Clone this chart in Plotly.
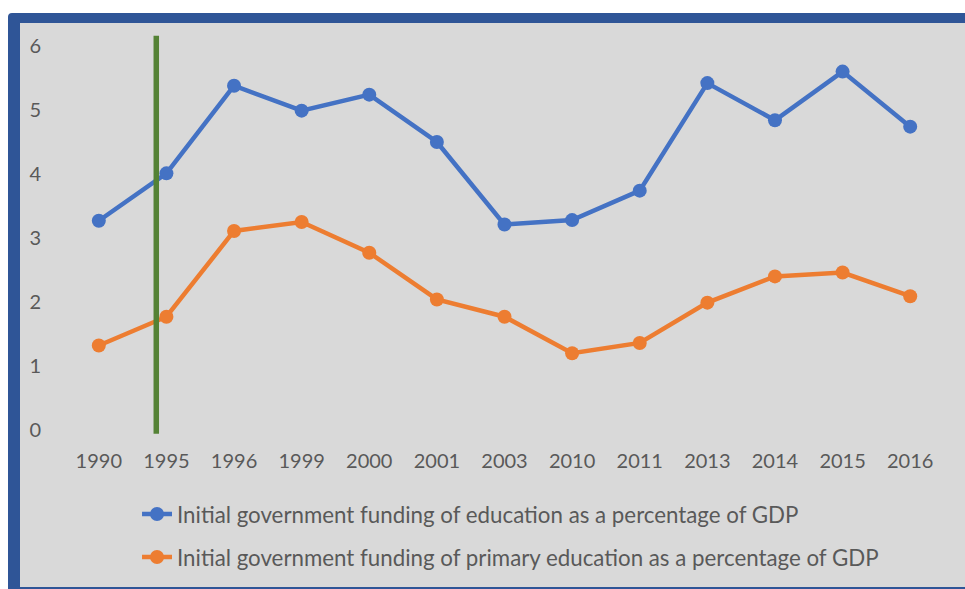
import plotly.graph_objects as go

years = ["1990", "1995", "1996", "1999", "2000", "2001", "2003", "2010", "2011", "2013", "2014", "2015", "2016"]
total_edu = [3.27, 4.01, 5.38, 4.99, 5.24, 4.50, 3.21, 3.28, 3.74, 5.42, 4.84, 5.60, 4.74]
primary_edu = [1.32, 1.77, 3.11, 3.25, 2.77, 2.04, 1.77, 1.20, 1.36, 1.99, 2.40, 2.46, 2.09]
name_total = "Initial government funding of education as a percentage of GDP"
name_primary = "Initial government funding of primary education as a percentage of GDP"
y_ticks = [0, 1, 2, 3, 4, 5, 6]
marker_x = 0.85      # vertical marker position (category index, just before 1995)
marker_y = [-0.06, 6.16]

W, H = 965, 589
TXT = "#595959"
FONT = "Lato, 'Open Sans', sans-serif"

fig = go.Figure()
fig.add_trace(go.Scatter(
    x=years, y=total_edu, name=name_total, mode="lines+markers",
    line=dict(color="#4472C4", width=4.5),
    marker=dict(color="#4472C4", size=14),
    legendgroup="a",
))
fig.add_trace(go.Scatter(
    x=years, y=primary_edu, name=name_primary, mode="lines+markers",
    line=dict(color="#ED7D31", width=4.5),
    marker=dict(color="#ED7D31", size=14),
    legendgroup="b",
))

def px(x):
    return x / W

def py(y):
    return 1 - y / H

shapes = [
    # gray chart area
    dict(type="rect", xref="paper", yref="paper", x0=px(20), x1=px(W), y0=py(587), y1=py(23),
         fillcolor="#D9D9D9", line=dict(width=0), layer="below"),
    # top/left blue border
    dict(type="path", xref="paper", yref="paper",
         path=f"M {px(8)},{py(H)} L {px(8)},{py(17)} Q {px(8)},{py(13)} {px(12)},{py(13)} "
              f"L {px(W)},{py(13)} L {px(W)},{py(23)} L {px(20)},{py(23)} L {px(20)},{py(H)} Z",
         fillcolor="#2F5597", line=dict(width=0), layer="below"),
    # bottom blue line
    dict(type="rect", xref="paper", yref="paper", x0=px(20), x1=px(W), y0=py(H), y1=py(587),
         fillcolor="#2F5597", line=dict(width=0), layer="below"),
    # green vertical marker line
    dict(type="line", xref="x", yref="y", x0=marker_x, x1=marker_x, y0=marker_y[0], y1=marker_y[1],
         line=dict(color="#548235", width=5.5), layer="above"),
]

fig.update_layout(
    width=W, height=H, autosize=False,
    margin=dict(l=0, r=0, t=0, b=0, pad=0, autoexpand=False),
    paper_bgcolor="white",
    plot_bgcolor="rgba(0,0,0,0)",
    font=dict(family=FONT, size=20, color=TXT),
    shapes=shapes,
    showlegend=True,
    legend=dict(
        orientation="v", x=0.142, xanchor="left", y=1 - 493 / H, yanchor="top",
        bgcolor="rgba(0,0,0,0)", font=dict(family=FONT, size=22.3, color=TXT),
        tracegroupgap=11, itemwidth=30,
    ),
    xaxis=dict(
        type="category", domain=[65 / W, 944 / W], range=[-0.5, 12.5],
        showgrid=False, zeroline=False, showline=False,
        ticks="outside", ticklen=7, tickcolor="rgba(0,0,0,0)",
        tickfont=dict(family=FONT, size=20, color=TXT),
        fixedrange=True,
    ),
    yaxis=dict(
        domain=[1 - 436.4 / H, 1 - 33.2 / H], range=[-0.1, 6.2],
        tickvals=y_ticks, showgrid=False, zeroline=False, showline=False,
        ticks="outside", ticklen=19, tickcolor="rgba(0,0,0,0)",
        tickfont=dict(family=FONT, size=20, color=TXT),
        fixedrange=True,
    ),
)

fig.write_html("out.html", config={"responsive": False, "displayModeBar": False})
